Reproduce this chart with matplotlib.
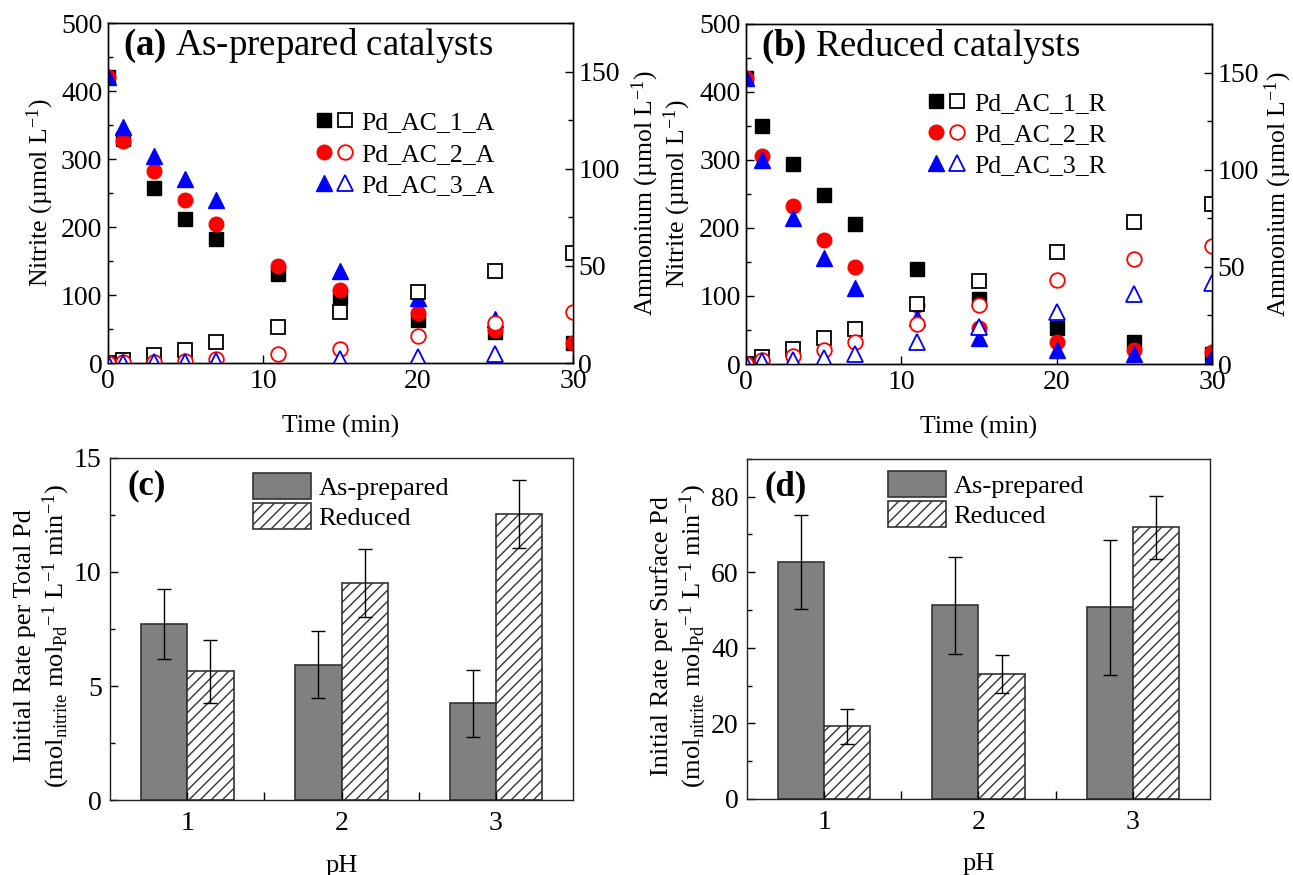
import numpy as np
import matplotlib
matplotlib.use('Agg')
import matplotlib.pyplot as plt
from matplotlib.legend_handler import HandlerTuple
from matplotlib.lines import Line2D
from matplotlib.ticker import MultipleLocator

nan = np.nan

# ---- time series (panels a, b) ----
time_min = [0, 1, 3, 5, 7, 11, 15, 20, 25, 30]

# as-prepared: nitrite (left axis) and ammonium (right axis), umol/L
ac1_a_nit = [420, 330, 258, 212, 182, 131, 97, 63, 46, 30]
ac2_a_nit = [420, 327, 283, 240, 205, 143, 107, 73, 48, 30]
ac3_a_nit = [421, 347, 305, 270, 240, nan, 135, 96, 65, nan]
ac1_a_nh4 = [0, 1.4, 4.3, 6.9, 10.8, 18.6, 26.3, 36.6, 47.3, 56.4]
ac2_a_nh4 = [0, 0.5, 0.5, 1.0, 2.2, 4.8, 7.4, 13.9, 20.6, 26.3]
ac3_a_nh4 = [0, 0, 0.5, 0.5, 1.0, nan, 2.2, 3.0, 4.8, nan]
names_a = ['Pd_AC_1_A', 'Pd_AC_2_A', 'Pd_AC_3_A']

# reduced
ac1_r_nit = [420, 350, 294, 249, 206, 139, 95, 53, 32, 14]
ac2_r_nit = [420, 306, 233, 182, 143, 87, 53, 32, 20, 17]
ac3_r_nit = [420, 300, 214, 156, 112, 68, 38, 21, 15, 11]
ac1_r_nh4 = [0, 3.4, 7.7, 13.4, 18.2, 31, 42.5, 57.4, 72.9, 82.5]
ac2_r_nh4 = [0, 1.9, 3.9, 7.0, 11.1, 20.7, 30.5, 43.4, 54, 60.5]
ac3_r_nh4 = [0, 1.7, 2.2, 3.1, 5.3, 11.3, 18.9, 27, 36.2, 41.7]
names_r = ['Pd_AC_1_R', 'Pd_AC_2_R', 'Pd_AC_3_R']

# ---- initial rates (panels c, d) ----
ph = [1, 2, 3]
total_asprep = [7.71, 5.94, 4.24]
total_asprep_err = [1.53, 1.48, 1.48]
total_reduced = [5.64, 9.51, 12.55]
total_reduced_err = [1.37, 1.48, 1.48]
surf_asprep = [62.7, 51.3, 50.7]
surf_asprep_err = [12.5, 12.8, 17.9]
surf_reduced = [19.2, 33.1, 71.9]
surf_reduced_err = [4.6, 5.0, 8.4]

plt.rcParams['font.family'] = ['Liberation Serif', 'DejaVu Serif']
plt.rcParams['mathtext.fontset'] = 'custom'
plt.rcParams['mathtext.rm'] = 'Liberation Serif'
plt.rcParams['mathtext.it'] = 'Liberation Serif:italic'
plt.rcParams['mathtext.bf'] = 'Liberation Serif:bold'
plt.rcParams['axes.linewidth'] = 1.0

colors = ['black', 'red', 'blue']
markers = ['s', 'o', '^']
msizes = [9.5, 10.5, 11]
FS = 18.5
TICK_FS = 20


def time_panel(ax, nitrite, ammonium, names, title, leg_xy, ylab_x, y2lab_x):
    ax2 = ax.twinx()
    handles = []
    for nit, nh4, c, m, s in zip(nitrite, ammonium, colors, markers, msizes):
        ax.plot(time_min, nit, ls='none', marker=m, ms=s, color=c)
        ax2.plot(time_min, nh4, ls='none', marker=m, ms=s, mfc='white',
                 mec=c, mew=1.3)
        filled = Line2D([], [], ls='none', marker=m, ms=s, color=c)
        hollow = Line2D([], [], ls='none', marker=m, ms=s, mfc='white',
                        mec=c, mew=1.3)
        handles.append((filled, hollow))

    ax.set_xlim(0, 30)
    ax.set_xticks([0, 10, 20, 30])
    ax.set_ylim(0, 500)
    ax.yaxis.set_major_locator(MultipleLocator(100))
    ax.yaxis.set_minor_locator(MultipleLocator(50))
    ax2.set_ylim(0, 175)
    ax2.yaxis.set_major_locator(MultipleLocator(50))
    ax2.yaxis.set_minor_locator(MultipleLocator(25))

    ax.tick_params(which='both', direction='in', top=False, right=False,
                   labelsize=TICK_FS, pad=4)
    ax.tick_params(which='major', length=6, width=1)
    ax.tick_params(which='minor', length=3.5, width=1)
    ax2.tick_params(which='both', direction='in', labelsize=TICK_FS, pad=4)
    ax2.tick_params(which='major', length=6, width=1)
    ax2.tick_params(which='minor', length=3.5, width=1)

    ax.set_xlabel('Time (min)', fontsize=FS)
    ax.xaxis.set_label_coords(0.5, -0.152)
    ax.set_ylabel('Nitrite (µmol L$^{\\mathregular{-1}}$)', fontsize=FS)
    ax.yaxis.set_label_coords(ylab_x, 0.5)
    ax2.set_ylabel('Ammonium (µmol L$^{\\mathregular{-1}}$)', fontsize=FS)
    ax2.yaxis.set_label_coords(y2lab_x, 0.5)

    ax.text(0.033, 0.905, title, transform=ax.transAxes, fontsize=26.5,
            va='baseline', ha='left')

    ax2.legend(handles, names, handler_map={tuple: HandlerTuple(ndivide=None, pad=0.25)},
               loc='upper left', bbox_to_anchor=leg_xy, frameon=False,
               fontsize=FS, borderpad=0, borderaxespad=0, handlelength=1.4,
               handletextpad=0.37, labelspacing=0.32)
    return ax2


def rate_panel(ax, asprep, asprep_err, reduced, reduced_err, ylim, major, minor,
               label, ylab, leg_xy):
    x = np.array(ph, dtype=float)
    w = 0.3
    ax.bar(x - w / 2, asprep, w, color='#808080', edgecolor='#333333',
           linewidth=1.2, label='As-prepared')
    ax.bar(x + w / 2, reduced, w, color='white', edgecolor='#333333',
           linewidth=1.2, hatch='///', label='Reduced')
    ax.errorbar(x - w / 2, asprep, yerr=asprep_err, fmt='none', ecolor='black',
                elinewidth=1, capsize=5, capthick=1)
    ax.errorbar(x + w / 2, reduced, yerr=reduced_err, fmt='none', ecolor='black',
                elinewidth=1, capsize=5, capthick=1)

    ax.set_xlim(0.5, 3.5)
    ax.set_xticks(ph)
    ax.set_xticks([1.5, 2.5], minor=True)
    ax.set_ylim(*ylim)
    ax.yaxis.set_major_locator(MultipleLocator(major))
    ax.yaxis.set_minor_locator(MultipleLocator(minor))
    ax.tick_params(which='both', direction='in', top=False, right=False,
                   labelsize=TICK_FS, pad=6)
    ax.tick_params(axis='x', which='both', pad=8)
    ax.tick_params(which='major', length=6, width=1)
    ax.tick_params(which='minor', length=3.5, width=1)
    ax.tick_params(axis='x', which='minor', length=6)
    for sp in ax.spines.values():
        sp.set_color('#222222')

    ax.set_xlabel('pH', fontsize=19)
    ax.xaxis.set_label_coords(0.5, -0.16)
    ax.set_ylabel(ylab, fontsize=19, linespacing=1.2)
    ax.yaxis.set_label_coords(-0.082, 0.48)

    ax.text(0.037, 0.893, label, transform=ax.transAxes, fontsize=25,
            fontweight='bold', va='baseline', ha='left')
    ax.legend(loc='upper left', bbox_to_anchor=leg_xy, frameon=False,
              fontsize=19, borderpad=0, borderaxespad=0, handlelength=2.2,
              handleheight=1.14, handletextpad=0.27, labelspacing=0.12)


fig = plt.figure(figsize=(12.93, 8.75), dpi=100)
ax_a = fig.add_axes([0.0835, 0.5851, 0.3596, 0.3886])
ax_b = fig.add_axes([0.5770, 0.5840, 0.3604, 0.3886])
ax_c = fig.add_axes([0.0851, 0.0857, 0.3581, 0.3909])
ax_d = fig.add_axes([0.5777, 0.0869, 0.3581, 0.3886])

time_panel(ax_a, [ac1_a_nit, ac2_a_nit, ac3_a_nit],
           [ac1_a_nh4, ac2_a_nh4, ac3_a_nh4], names_a,
           r'$\mathbf{(a)}$ As-prepared catalysts', (0.448, 0.74), -0.112, 1.122)
time_panel(ax_b, [ac1_r_nit, ac2_r_nit, ac3_r_nit],
           [ac1_r_nh4, ac2_r_nh4, ac3_r_nh4], names_r,
           r'$\mathbf{(b)}$ Reduced catalysts', (0.392, 0.80), -0.114, 1.108)

ylab_c = ('Initial Rate per Total Pd\n'
          '(mol$_{\\mathregular{nitrite}}$ mol$_{\\mathregular{Pd}}{}^{\\mathregular{-1}}$ '
          'L$^{\\mathregular{-1}}$ min$^{\\mathregular{-1}}$)')
ylab_d = ('Initial Rate per Surface Pd\n'
          '(mol$_{\\mathregular{nitrite}}$ mol$_{\\mathregular{Pd}}{}^{\\mathregular{-1}}$ '
          'L$^{\\mathregular{-1}}$ min$^{\\mathregular{-1}}$)')

rate_panel(ax_c, total_asprep, total_asprep_err, total_reduced, total_reduced_err,
           (0, 15), 5, 2.5, '(c)', ylab_c, (0.309, 0.956))
rate_panel(ax_d, surf_asprep, surf_asprep_err, surf_reduced, surf_reduced_err,
           (0, 90), 20, 10, '(d)', ylab_d, (0.305, 0.965))

fig.savefig('out.png', dpi=100)
